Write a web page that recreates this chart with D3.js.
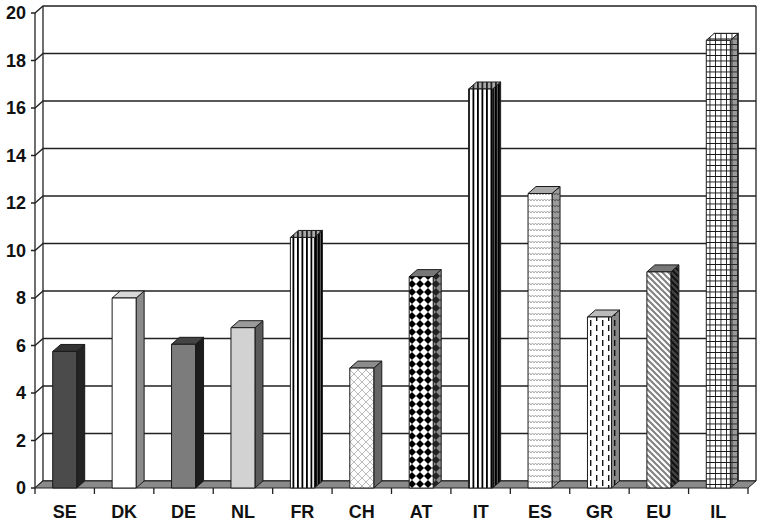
<!DOCTYPE html>
<html lang="en">
<head>
	<meta charset="UTF-8">
	<title>3D Bar Chart</title>
	<script src="https://d3js.org/d3.v7.min.js"></script>
	<style>
		body, html {
			margin: 0;
			padding: 0;
			background: #fff;
			overflow: hidden;
		}
		svg { display: block; }
		.tick-label {
			font-family: "Liberation Sans", Arial, sans-serif;
			font-weight: bold;
			font-size: 18px;
			fill: #111;
		}
	</style>
</head>
<body>
<div id="chart"></div>
	<script>
		// Data
		const categories = ["SE", "DK", "DE", "NL", "FR", "CH", "AT", "IT", "ES", "GR", "EU", "IL"];
		const values = [5.75, 8.0, 6.05, 6.75, 10.55, 5.05, 8.9, 16.8, 12.4, 7.2, 9.1, 18.85];
		const yTicks = [0, 2, 4, 6, 8, 10, 12, 14, 16, 18, 20];

		// fill for front / side / top of each bar (solid colour or pattern id)
		const barStyles = {
			SE: ["#4b4b4b", "#232323", "#333"],
			DK: ["#ffffff", "#8a8a8a", "#d8d8d8"],
			DE: ["#7c7c7c", "#1c1c1c", "#444"],
			NL: ["#d2d2d2", "#5a5a5a", "#9a9a9a"],
			FR: ["url(#vstripe)", "url(#vstripeDark)", "url(#vstripeTop)"],
			CH: ["url(#lattice)", "#666", "#8c8c8c"],
			AT: ["url(#diamond)", "url(#diamondDark)", "#777"],
			IT: ["url(#vstripe)", "url(#vstripeDark)", "url(#vstripeTop)"],
			ES: ["url(#wave)", "url(#waveDark)", "#aaa"],
			GR: ["url(#dash)", "url(#dashDark)", "#bbb"],
			EU: ["url(#diag)", "url(#diagDark)", "#777"],
			IL: ["url(#grid)", "url(#gridDark)", "url(#grid)"]
		};

		const width = 762;
		const height = 525;
		const dx = 8, dy = -7; // depth offset of the 3D box

		const svg = d3.select("#chart")
			.append("svg")
			.attr("width", width)
			.attr("height", height);

		const x = d3.scaleBand()
			.domain(categories)
			.range([35, 748]);

		const y = d3.scaleLinear()
			.domain([0, 20])
			.range([488, 13]);

		// Patterns
		const defs = svg.append("defs");

		function pattern(id, w, h, bg, draw) {
			const p = defs.append("pattern")
				.attr("id", id)
				.attr("patternUnits", "userSpaceOnUse")
				.attr("width", w)
				.attr("height", h);
			p.append("rect").attr("width", w).attr("height", h).attr("fill", bg);
			draw(p);
		}

		pattern("vstripe", 4.5, 10, "#fff", p =>
			p.append("rect").attr("x", 0).attr("width", 1.8).attr("height", 10).attr("fill", "#000"));
		pattern("vstripeDark", 3, 10, "#555", p =>
			p.append("rect").attr("x", 0).attr("width", 1.8).attr("height", 10).attr("fill", "#000"));
		pattern("vstripeTop", 4.5, 10, "#aaa", p =>
			p.append("rect").attr("x", 0).attr("width", 1.8).attr("height", 10).attr("fill", "#222"));

		pattern("lattice", 8, 8, "#fdfdfd", p =>
			p.append("path")
				.attr("d", "M0,8 L8,0 M0,4 L4,8 M4,0 L8,4")
				.attr("stroke", "#bbb").attr("stroke-width", 1).attr("fill", "none"));

		pattern("diamond", 8, 8, "#fff", p =>
			p.append("path")
				.attr("d", "M4,0 L8,4 L4,8 L0,4 Z")
				.attr("fill", "#000"));
		pattern("diamondDark", 8, 8, "#888", p =>
			p.append("path")
				.attr("d", "M4,0 L8,4 L4,8 L0,4 Z")
				.attr("fill", "#222"));

		pattern("wave", 6, 6, "#fff", p =>
			p.append("path")
				.attr("d", "M0,3 L1.5,1 L3,3 L4.5,1 L6,3")
				.attr("stroke", "#aaa").attr("stroke-width", 1).attr("fill", "none"));
		pattern("waveDark", 6, 6, "#9a9a9a", p =>
			p.append("path")
				.attr("d", "M0,3 L1.5,1 L3,3 L4.5,1 L6,3")
				.attr("stroke", "#555").attr("stroke-width", 1).attr("fill", "none"));

		function dashes(p) {
			p.append("rect").attr("x", 2).attr("y", 0).attr("width", 1.4).attr("height", 6).attr("fill", "#111");
			p.append("rect").attr("x", 2).attr("y", 10).attr("width", 1.4).attr("height", 6).attr("fill", "#111");
			p.append("rect").attr("x", 8).attr("y", 5).attr("width", 1.4).attr("height", 6).attr("fill", "#111");
			p.append("rect").attr("x", 8).attr("y", 15).attr("width", 1.4).attr("height", 5).attr("fill", "#111");
			p.append("rect").attr("x", 8).attr("y", 0).attr("width", 1.4).attr("height", 1).attr("fill", "#111");
		}
		pattern("dash", 12, 20, "#fff", dashes);
		pattern("dashDark", 12, 20, "#888", dashes);

		pattern("diag", 6, 6, "#fff", p =>
			p.append("path")
				.attr("d", "M-1,-1 L7,7 M-1,5 L1,7 M5,-1 L7,1")
				.attr("stroke", "#808080").attr("stroke-width", 2));
		pattern("diagDark", 6, 6, "#444", p =>
			p.append("path")
				.attr("d", "M-1,-1 L7,7 M-1,5 L1,7 M5,-1 L7,1")
				.attr("stroke", "#111").attr("stroke-width", 2));

		pattern("grid", 5.5, 5.5, "#fff", p =>
			p.append("path")
				.attr("d", "M0,0 L5.5,0 M0,0 L0,5.5")
				.attr("stroke", "#111").attr("stroke-width", 1.7));
		pattern("gridDark", 5.5, 5.5, "#999", p =>
			p.append("path")
				.attr("d", "M0,0 L5.5,0 M0,0 L0,5.5")
				.attr("stroke", "#222").attr("stroke-width", 1.7));

		// Walls: gridlines on back wall with diagonals on the left wall
		const x0 = x.range()[0], x1 = x.range()[1];
		const grid = svg.append("g")
			.attr("stroke", "#222")
			.attr("stroke-width", 1.3)
			.attr("fill", "none");

		grid.selectAll(".gl")
			.data(yTicks)
			.enter()
			.append("path")
			.attr("class", "gl")
			.attr("d", d => `M${x0 - 4},${y(d)} L${x0},${y(d)} L${x0 + dx},${y(d) + dy} L${x1 + dx},${y(d) + dy}`);

		grid.append("line")
			.attr("x1", x0).attr("x2", x0)
			.attr("y1", y(20)).attr("y2", y(0));
		grid.append("line")
			.attr("x1", x0 + dx).attr("x2", x0 + dx)
			.attr("y1", y(20) + dy).attr("y2", y(0) + dy);
		grid.append("line")
			.attr("x1", x1 + dx).attr("x2", x1 + dx)
			.attr("y1", y(20) + dy).attr("y2", y(0) + dy);

		// Floor
		svg.append("path")
			.attr("d", `M${x0},${y(0)} L${x1},${y(0)} L${x1 + dx},${y(0) + dy} L${x0 + dx},${y(0) + dy} Z`)
			.attr("fill", "#8a8a8a")
			.attr("stroke", "#222")
			.attr("stroke-width", 1);

		// Category ticks
		svg.append("g")
			.attr("stroke", "#222")
			.attr("stroke-width", 1.3)
			.selectAll("line")
			.data(categories.map(c => x(c)).concat([x1]))
			.enter()
			.append("line")
			.attr("x1", d => d).attr("x2", d => d)
			.attr("y1", y(0)).attr("y2", y(0) + 6);

		// Bars
		const barW = 24;
		const bars = svg.selectAll(".bar")
			.data(categories.map((c, i) => ({ cat: c, value: values[i] })))
			.enter()
			.append("g")
			.attr("class", "bar")
			.attr("stroke", "#1a1a1a")
			.attr("stroke-width", 1)
			.attr("stroke-linejoin", "round");

		bars.each(function(d) {
			const g = d3.select(this);
			const bx = x(d.cat) + x.bandwidth() / 2 - barW / 2;
			const top = y(d.value);
			const base = y(0);
			const st = barStyles[d.cat];

			// side face
			g.append("path")
				.attr("d", `M${bx + barW},${top} L${bx + barW + dx},${top + dy} L${bx + barW + dx},${base + dy} L${bx + barW},${base} Z`)
				.attr("fill", st[1]);
			// top face
			g.append("path")
				.attr("d", `M${bx},${top} L${bx + dx},${top + dy} L${bx + barW + dx},${top + dy} L${bx + barW},${top} Z`)
				.attr("fill", st[2]);
			// front face
			g.append("rect")
				.attr("x", bx)
				.attr("y", top)
				.attr("width", barW)
				.attr("height", base - top)
				.attr("fill", st[0]);
		});

		// Y axis labels
		svg.selectAll(".ylab")
			.data(yTicks)
			.enter()
			.append("text")
			.attr("class", "tick-label")
			.attr("x", 26)
			.attr("y", d => y(d))
			.attr("dy", "0.36em")
			.attr("text-anchor", "end")
			.text(d => d);

		// Category labels
		svg.selectAll(".xlab")
			.data(categories)
			.enter()
			.append("text")
			.attr("class", "tick-label")
			.attr("x", d => x(d) + x.bandwidth() / 2)
			.attr("y", 518)
			.attr("text-anchor", "middle")
			.text(d => d);
	</script>
</body>
</html>
